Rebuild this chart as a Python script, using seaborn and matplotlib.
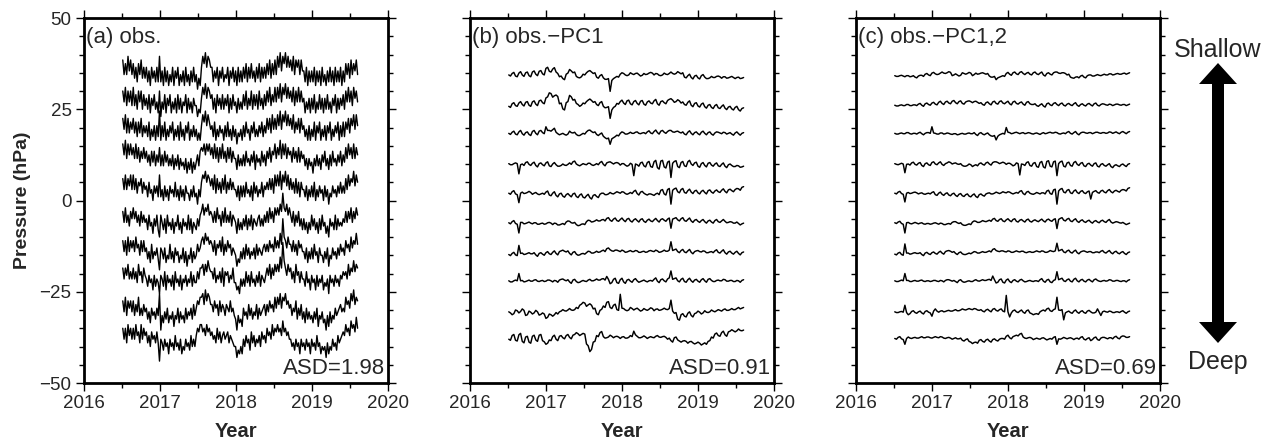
import numpy as np
import pandas as pd
import matplotlib
matplotlib.use("Agg")
import matplotlib.pyplot as plt
import seaborn as sns
from matplotlib.patches import FancyArrow
from matplotlib.ticker import MultipleLocator

# ---------------------------------------------------------------
# data: pressure anomalies of ten sensors
# (shallow -> deep), samples evenly spaced between T_START and T_END
# ---------------------------------------------------------------
T_START, T_END = 2016.51, 2019.60

OFFS_OBS = [35.5, 28, 20.5, 12.5, 4, -5, -13, -20.5, -29.5, -37]
OFFS_RES = [34.4, 26.3, 18.4, 9.8, 2, -6.1, -14.3, -22, -30.5, -37.8]

# (a) observations, hPa
obs_1 = [3,-1,2,-1,4,0,3,-1, 2,-2,1,-3,2,-1,3,-2,1,-2, 1,-3,0,-4,1,-2,0,-3,1,-3, 4,-3, 0,-4,1,-3,0,-4,-1,-3,1,-4,0,-2,1,-4,-1,-3,0,-4,1,-3,-1,-4,0,-3,1,-3, -1,-5,-2,-4, 1,4,2,5,1,4,3,1, 1,-3,0,-2,1,-4,0,-2,1,-3,-1,-2,1,-4,0,-2,1,-3, 0,-4,1,-3,0,-3, 1,-2,2,-3,1,-2,2,-2,0,-3,1,-2,2,-3,1,-2,1,-2, 2,-1,3,-2,2,-1,3,-1, 4,1,5,0,4,2,5,1,4,1, 3,0,4,-1,3,1,3,-1,3,0, 0,-3,1,-4,0,-3, 0,-3,1,-4,0,-3,0,-4,1,-3,-1,-4,0,-3,1,-3,0,-4,1,-3,0,-3,1,-4,0,-3, 2,-1,2,-2,3,-1,2,0,3,-1]
obs_2 = [2,-1,3,-2,2,-1,2,-2, 3,-2,1,-3,2,-1,2,-3,1,-2, 0,-3,1,-4,0,-2,1,-3,-1,-4, 2,-5, -1,-3,1,-4,0,-2,1,-4,-1,-3,0,-4,1,-3,0,-4,-1,-2,1,-4,0,-3,-1,-4,0,-2, -2,-5,-3,-4, 0,3,1,4,0,3,2,0, 1,-3,0,-4,1,-2,0,-3,1,-3,0,-2,1,-4,0,-3,1,-2, -1,-4,0,-3,-1,-3, 1,-2,2,-3,0,-2,2,-3,1,-2,1,-3,2,-2,0,-3,1,-2, 2,-1,3,-2,1,-1,3,-1, 3,0,4,-1,3,1,4,0,3,0, 2,-1,3,-2,2,-1,3,-1,2,-1, 0,-4,-1,-3,0,-4, 0,-3,1,-4,-1,-3,1,-3,0,-4,0,-3,1,-3,-1,-4,0,-2,1,-4,0,-3,0,-2,1,-3, 2,-1,3,-1,2,-2,3,0,2,-1]
obs_3 = [2,-1,3,-2,2,-2,1,-1, 2,-2,1,-3,1,-2,2,-3,0,-2, 0,-3,1,-4,-1,-3,0,-4,0,-3, 4,-4, 0,-3,1,-4,-1,-3,0,-2,1,-4,-1,-3,0,-4,1,-3,-1,-4,0,-2,1,-4,-1,-3,0,-3, -1,-4,-2,-4, 0,3,1,4,0,3,1,-1, 0,-3,1,-4,-1,-3,0,-2,-1,-4,0,-3,1,-3,-1,-4,0,-3, -1,-5,-2,-3,-1,-4, 0,-3,1,-2,-1,-4,0,-2,1,-3,-1,-3,0,-2,1,-3,0,-2, 2,-1,2,-2,3,-1,2,-1, 3,0,4,-1,3,1,4,0,3,0, 2,-1,3,-2,1,-1,2,-2,2,-1, 0,-3,-1,-4,0,-4, -1,-3,1,-4,0,-2,1,-4,-1,-3,0,-4,0,-2,1,-4,-1,-3,0,-2,1,-4,0,-3,1,-3, 1,-1,2,-2,2,0,3,-1,3,0]
obs_4 = [3,0,4,-1,3,0,3,0, 2,-1,3,-1,2,-2,1,-1,2,-1, 1,-2,0,-3,1,-2,1,-3,0,-2, 2,-3, 0,-3,1,-2,0,-3,-1,-3,0,-4,-1,-3,0,-4,-1,-3,-2,-4,-1,-5,-2,-4,-1,-5,-2,-4, -2,0,-3,1, 2,1,3,0,3,1,3,0, 2,-1,3,-1,2,-2,2,-1,3,-1,1,-2,2,-1,2,-2,1,-1, -1,-4,0,-3,-1,-3, 0,-3,1,-2,-1,-3,0,-2,1,-4,0,-2,-1,-3,1,-2,0,-3, 1,-1,2,-2,1,0,3,-1, 2,0,4,-1,3,0,3,-1,2,0, 1,-2,2,-1,1,-2,2,-2,1,-1, 0,-3,-1,-4,-1,-3, -2,-5,-1,-3,0,-3,-1,-4,0,-2,1,-3,-1,-4,0,-3,1,-2,-1,-3,0,-2,1,-3,0,-2, 2,-1,3,0,2,-1,3,-1,2,0]
obs_5 = [2,-1,3,-1,2,0,3,-1, 3,-1,2,-2,1,0,2,-2,1,-1, 0,-3,1,-2,-1,-4,0,-2,0,-3, 3,-3, -1,-4,0,-3,-1,-4,0,-2,-1,-3,1,-3,-1,-4,0,-3,-1,-4,0,-2,-2,-4,-1,-3,0,-3, -2,-5,-1,-3, 1,3,2,4,1,3,2,0, 2,-1,3,-2,2,-1,1,-2,2,-1,3,-2,1,-1,2,-1,1,-1, -1,-3,0,-4,0,-3, 0,-3,1,-2,-1,-3,0,-4,1,-2,0,-3,-1,-2,1,-3,0,-1, 1,-1,2,-1,2,-2,3,0, 3,0,4,-1,3,1,4,0,3,-1, 2,-1,1,-2,2,-2,1,-3,1,-1, -1,-3,0,-4,-1,-3, 0,-3,1,-4,-1,-3,0,-2,-1,-4,0,-3,-1,-5,-2,-3,0,-2,-1,-3,0,-2,1,-2,0,-2, 2,-1,3,0,2,1,4,0,3,1]
obs_6 = [2,-1,3,-1,1,-2,2,0, 3,0,2,-1,1,-2,2,-1,1,-1, 0,-3,1,-2,-1,-4,0,-2,1,-3, -5,1, -1,-3,0,-4,1,-2,-1,-3,0,-4,-1,-2,1,-3,-1,-4,0,-2,-1,-3,1,-3,0,-4,-1,-2, -3,0,-2,1, 2,4,1,3,2,4,1,2, 1,-1,2,-1,3,0,1,-2,2,-1,3,-1,1,-1,2,-2,1,0, -1,-4,0,-3,-1,-3, 0,-2,1,-3,0,-2,1,-3,0,-1,-2,0,1,-2,0,-2,1,-1, 2,-1,3,0,2,-1,3,1, 3,1,4,2,7,3,2,4,1,3, 1,-1,2,-2,1,-1,2,-2,0,-3, 0,-3,-1,-4,-1,-3, 1,-2,0,-3,-1,-4,0,-3,1,-2,-1,-4,-2,-5,0,-2,-1,-3,1,-3,0,-2,-1,-2,0,-1, 2,-1,2,0,3,-1,2,0,3,1]
obs_7 = [2,-1,2,-2,3,-1,2,0, 2,-1,3,0,1,-2,2,-1,2,-1, 0,-3,-1,-4,1,-3,-1,-2,0,-3, -6,0, -1,-3,0,-4,-2,-3,1,-3,-1,-4,0,-2,-1,-4,-2,-3,0,-4,-1,-5,-2,-3,0,-4,-1,-3, -2,1,-1,0, 2,3,1,4,2,3,1,2, 1,-1,2,-2,1,0,2,-1,3,-2,1,-1,2,0,1,-2,0,-1, -2,-5,-3,-4,-1,-3, 0,-3,1,-2,0,-3,-1,-2,0,-3,1,-2,0,-1,-2,0,1,-1, 1,-1,2,0,1,-1,3,0, 2,0,4,1,8,3,2,0,3,1, 1,-1,2,-1,1,-2,2,0,1,-1, -1,-3,0,-4,-1,-3, 0,-3,1,-2,-1,-4,0,-2,-2,-4,-1,-3,0,-5,-2,-3,0,-2,-1,-3,0,-2,1,-1,0,-2, 2,0,1,-1,3,0,2,1,4,1]
obs_8 = [2,-1,2,0,3,-1,1,-1, 2,-1,1,-2,3,0,1,-2,2,0, -1,-3,0,-2,-1,-4,0,-3,-1,-2, -5,0, -1,-3,1,-4,0,-2,-1,-3,0,-4,1,-2,-1,-3,0,-4,-1,-2,0,-3,-1,-2,1,-3,0,-2, -2,1,-1,2, 2,3,0,3,1,4,2,1, 1,-1,2,-2,0,-1,1,-2,2,-3,1,0,1,-2,0,-1,2,-2, -2,-4,-3,-5,-1,-3, -1,-3,1,-2,0,-3,1,-2,-1,-3,0,-2,1,-3,0,-1,-2,0, 2,0,3,-1,2,0,3,1, 3,1,5,2,9,4,2,0,3,1, 2,-1,1,-2,3,0,1,-2,1,-1, -1,-3,1,-2,-1,-4, 0,-2,-1,-4,0,-3,-1,-2,0,-4,-2,-3,-1,-5,0,-2,-1,-3,0,-2,-1,-3,0,-1,1,0, 1,-1,3,0,2,1,4,1,3,2]
obs_9 = [2,-1,3,-2,2,0,2,-1, 2,-2,1,-1,3,-2,0,-2,1,-1, 0,-3,-1,-4,0,-2,-1,-3,0,-2, 4,-6, -2,-4,-1,-3,0,-4,-2,-3,-1,-5,-2,-3,0,-4,-1,-3,-2,-4,0,-3,-1,-2,0,-3,1,-2, 0,2,1,3, 3,4,1,5,2,4,3,1, 1,-1,2,0,1,-2,2,-1,1,0,-2,1,0,-1,2,-1,0,-2, -3,-6,-2,-4,-3,-5, 0,-2,-1,-3,1,-2,0,-3,-1,-2,1,-3,0,-2,-1,0,1,-2, 1,-1,2,0,1,-1,3,0, 3,1,4,0,3,2,4,1,2,0, 1,-2,0,-1,2,-3,0,-2,1,-3, -1,-4,0,-3,-1,-3, -2,-4,-1,-3,0,-5,-2,-3,-1,-4,-3,-6,-2,-5,-1,-4,-2,-3,0,-2,-1,0,1,-1,0,-1, 3,1,2,0,4,2,5,1,3,2]
obs_10 = [2,-1,2,-2,3,0,2,-1, 2,-1,3,0,1,-2,3,-1,2,0, 1,-2,0,-3,1,-1,0,-2,1,-2, -7,-1, -2,-4,-1,-3,-2,-5,-1,-3,-2,-4,0,-3,-2,-4,-1,-5,-3,-4,-1,-3,-2,-4,0,-3,-1,-3, 0,2,1,3, 3,1,2,0,3,1,2,0, 1,-1,0,-2,2,-1,1,-2,0,1,-1,0,1,-2,0,-1,-2,-3, -3,-6,-4,-5,-3,-5, -1,-3,0,-2,-1,-4,1,-2,0,-3,-1,-2,0,-3,1,-1,0,-2, 2,0,1,-1,3,0,2,1, 3,1,2,0,4,1,2,0,1,-1, -1,-3,-2,-4,-1,-3,-2,-5,-1,-3, -2,-4,-1,-3,-2,-5, -1,-3,-2,-4,0,-3,-2,-5,-3,-4,-3,-6,-2,-5,-3,-4,-1,-3,-2,-4,0,-2,-1,0,1,0, 3,1,2,0,4,2,3,1,5,2]

# (b) observations minus PC1, and (c) minus PC1,2 -- in units of 0.1 hPa
RES_UNIT = 0.1
pc1_1 = [0,-3,4,7,-3,-5,5,9,0,-4,6,8,-2,-5,8,11,2,-2,10,12,3,0,18,21,10,8,16,20,8,4,-5,-3,-10,-13,2,5,15,11,6,8,-4,-7,-8,-5,2,0,6,10,12,8,4,6,-6,-9,-2,1,-8,-12,-12,-10,-45,-15,-10,-7,-4,-6,2,6,4,0,-2,0,6,3,1,4,5,1,-3,-1,4,1,2,5,7,5,0,4,3,-1,-2,0,5,2,1,4,8,4,2,4,9,6,3,6,-6,-8,-2,2,-7,-11,-3,-1,-8,-11,-2,1,-6,-10,-10,-8,-4,-7,-7,-4,-3,-5,-9,-5,-5,-9,-8,-6,-4,-7,-10,-7,-6,-10,-9,-7]
pc1_2 = [-5,-8,2,5,-3,-5,4,8,0,-4,6,8,-2,-5,7,10,1,-3,10,12,5,2,18,21,32,30,20,24,26,22,2,4,-12,-15,5,8,25,21,12,14,3,0,-5,-2,4,2,8,12,15,11,6,8,0,-3,5,8,-5,-9,-8,-6,-38,-15,-8,-5,3,1,8,12,4,0,10,12,2,-1,8,11,3,-1,9,11,1,-2,7,10,4,2,10,14,2,-2,8,10,5,2,11,14,16,12,6,8,13,10,4,7,0,-2,6,10,-2,-6,3,5,-4,-7,1,4,-6,-10,-2,0,-8,-11,-3,0,-9,-11,-5,-1,-10,-14,-7,-5,-12,-15,-8,-5,-14,-18,-11,-9]
pc1_3 = [0,-3,3,6,-2,-4,4,8,-1,-5,2,4,-3,-6,5,8,0,-4,6,8,2,-1,18,8,8,6,10,14,3,-1,-4,-2,0,-3,-5,-2,6,2,1,3,-3,-6,-6,-3,0,-2,4,8,9,5,2,4,-3,-6,-2,1,-8,-12,-15,-13,-30,-15,-12,-9,-5,-7,0,4,2,-2,-2,0,3,0,0,3,4,0,-1,1,2,-1,4,7,1,-1,5,9,2,-2,6,8,3,0,5,8,8,4,3,5,6,3,1,4,-2,-4,3,7,0,-4,2,4,-1,-4,3,6,0,-4,2,4,-2,-5,1,4,3,1,-1,3,2,-2,0,2,-2,-5,1,4,-1,-5,0,2]
pc1_4 = [3,0,0,3,5,3,-25,0,2,-2,6,8,1,-2,4,7,-2,-6,3,5,0,-3,5,8,-3,-5,2,6,0,-4,-4,-2,2,-1,-2,1,5,1,8,10,2,-1,-3,0,3,1,0,4,4,0,-2,0,3,0,6,9,1,-3,5,7,8,5,2,5,6,4,-1,3,3,-1,-4,-2,4,1,-30,2,0,-4,5,7,-3,-6,6,9,-5,-7,8,12,-8,-12,10,12,-6,-9,7,10,-35,4,9,11,-5,-8,6,9,-3,-5,8,12,2,-2,5,7,-4,-7,3,6,-2,-6,4,6,-1,-4,2,5,-3,-5,1,5,-4,-8,0,2,-2,-5,-5,-2,-3,-7,-6,-4]
pc1_5 = [0,-3,4,7,-2,-4,-26,0,3,-1,0,2,5,2,-3,0,2,-2,-4,-2,0,-3,3,6,-5,-7,0,4,-6,-10,-2,0,-8,-11,-4,-1,-6,-10,-2,0,-9,-12,-5,-2,-11,-13,-7,-3,-12,-16,-6,-4,-9,-12,-3,0,0,-4,-4,-2,2,-1,-2,1,4,2,0,4,3,-1,-3,-1,2,-1,5,8,-1,-5,3,5,0,-3,-5,-2,-2,-4,-6,-2,0,-4,8,10,-2,-5,10,13,-30,8,12,14,4,1,10,13,2,0,7,11,3,-1,6,8,1,-2,5,8,2,-2,7,9,3,0,6,9,4,2,8,12,5,1,9,11,7,4,10,13,12,8,16,18]
pc1_6 = [0,-3,3,6,-2,-4,-28,1,1,-3,-2,0,2,-1,-3,0,0,-4,-4,-2,-1,-4,-3,0,1,-1,-5,-1,-2,-6,-6,-4,-2,-5,2,5,4,0,-1,1,-5,-8,-7,-4,-3,-5,3,7,6,2,3,5,8,5,5,8,9,5,12,14,7,4,10,13,6,4,9,13,7,3,10,12,5,2,8,11,6,2,9,11,4,1,7,10,5,3,8,12,6,2,9,11,7,4,10,13,-15,10,12,14,8,5,11,14,6,4,9,13,5,1,7,9,4,1,6,9,3,-1,5,7,2,-1,6,9,3,1,5,9,4,0,1,3,2,-1,-1,2,-2,-6,-3,-1]
pc1_7 = [-5,-8,-2,1,-6,-8,20,-2,-1,-5,-4,-2,0,-3,-3,0,-6,-10,-2,0,-4,-7,0,3,-3,-5,1,5,-2,-6,3,5,7,4,2,5,-2,-6,1,3,-4,-7,-6,-3,-2,-4,0,4,3,-1,-1,1,4,1,2,5,7,3,11,13,8,5,4,7,7,5,3,7,5,1,2,4,6,3,3,6,5,1,1,3,4,1,2,5,6,4,3,7,5,1,2,4,7,4,4,7,30,6,8,10,3,0,6,9,2,0,5,9,1,-3,3,5,6,3,2,5,4,0,0,2,3,0,5,8,1,-1,4,8,0,-4,2,4,-1,-4,1,4,-2,-6,0,2]
pc1_8 = [0,-3,-3,0,2,0,20,0,1,-3,-2,0,2,-1,-1,2,3,-1,-2,0,1,-2,-1,2,2,0,-3,1,0,-4,2,4,5,2,0,3,-3,-7,2,4,-2,-5,-4,-1,1,-1,-2,2,4,0,0,2,5,2,2,5,6,2,12,4,-8,-5,4,7,-5,-7,3,7,-3,-7,2,4,-1,-4,3,6,0,-4,-2,0,2,-1,-3,0,1,-1,4,8,-1,-5,3,5,0,-3,5,8,27,4,6,8,0,-3,4,7,-2,-4,3,7,0,-4,2,4,-1,-4,3,6,0,-4,4,6,1,-2,-2,1,2,0,0,4,3,-1,-1,1,1,-2,-2,1,0,-4,1,3]
pc1_9 = [0,-3,-8,-5,5,3,-3,1,8,4,-10,-8,2,-1,-6,-3,4,0,-9,-7,-3,-6,-18,-15,-6,-8,-12,-8,-2,-6,0,2,6,3,2,5,9,5,4,6,12,9,18,21,26,24,15,19,22,18,8,10,-5,-8,4,7,16,12,26,28,12,9,18,21,6,4,48,10,9,5,3,5,12,9,5,8,10,6,2,4,9,6,4,7,11,9,3,7,8,4,5,7,10,7,6,9,32,2,-4,-2,-20,-23,-8,-5,-12,-14,-4,0,-10,-14,-5,-3,2,-1,-6,-3,3,-1,-2,0,5,2,0,3,6,4,2,6,8,4,4,6,9,6,6,9,12,8,10,12]
pc1_10 = [-2,-5,8,11,-5,-7,10,14,-8,-12,4,6,-10,-13,6,9,-4,-8,9,11,-6,-9,-16,-13,-4,-6,5,9,-2,-6,6,8,2,-1,8,11,3,-1,9,11,16,13,8,11,14,12,-15,-20,-36,-30,-10,-8,8,5,16,19,5,1,2,4,9,6,2,5,6,4,0,4,5,1,1,3,8,5,20,10,6,2,2,4,7,4,0,3,5,3,2,6,8,4,3,5,6,3,-2,1,-6,-10,2,4,-4,-7,-10,-7,-6,-8,-13,-9,-8,-12,-15,-13,-10,-13,-18,-15,-12,-16,-8,-6,4,1,12,15,8,6,16,20,10,6,18,20,24,21,18,21,26,22,21,23]

pc12_1 = [-2,-4,-4,-2,-1,-3,-5,-2,-2,-5,-4,-2,-6,-8,-3,-1,-1,-4,2,4,0,-2,5,7,3,1,2,5,8,5,4,6,9,7,-2,0,3,0,-3,-1,6,4,2,4,7,5,-2,1,5,2,3,5,6,4,2,4,-3,-6,-6,-4,-13,-8,-6,-4,-2,-4,4,7,2,-1,6,8,3,1,7,9,4,1,5,7,2,0,6,8,3,1,5,8,0,-3,4,6,2,0,6,8,8,5,4,6,6,4,0,2,-6,-8,-9,-6,-5,-8,-3,-1,-6,-8,-2,0,0,-3,-3,-1,1,-1,-2,0,2,0,0,3,3,0,1,3,4,2,2,4,5,2,4,6]
pc12_2 = [-2,-4,-4,-2,-1,-3,-3,0,0,-3,-3,-1,-1,-3,1,3,-2,-5,2,4,0,-2,4,6,1,-1,6,9,3,0,7,9,4,2,9,11,5,2,8,10,3,1,7,9,10,8,5,8,9,6,3,5,0,-2,5,7,2,-1,7,9,3,1,8,10,4,2,6,9,2,-1,7,9,3,1,5,7,1,-2,6,8,2,0,0,2,-3,-5,-1,2,-4,-7,2,4,-1,-3,3,5,0,-3,2,4,-2,-4,1,3,-1,-3,2,5,-2,-5,0,2,-2,-4,1,3,-1,-4,2,4,-2,-4,0,2,1,-1,-2,1,0,-3,-1,1,1,-1,-2,0,0,-3,-1,1]
pc12_3 = [0,-2,-2,0,1,-1,-1,2,2,-1,-2,0,0,-2,1,3,-1,-4,0,2,2,0,18,1,0,-2,-2,1,1,-2,-1,1,0,-2,-3,-1,-1,-4,-3,-1,0,-2,-2,0,1,-1,-1,2,-3,-6,0,2,-2,-4,-1,1,-4,-7,-8,-6,-18,-8,-4,-2,0,-2,16,3,2,-1,0,2,3,1,-1,1,2,-1,0,2,1,-1,-2,0,1,-1,-3,0,2,-1,0,2,3,1,1,3,2,-1,-2,0,1,-1,3,5,0,-2,2,5,-1,-4,1,3,3,1,0,2,2,-1,1,3,3,1,0,2,2,0,1,4,3,0,2,4,1,-1,3,5,2,-1,3,5]
pc12_4 = [3,1,0,2,4,2,-22,1,2,-1,5,7,1,-1,4,6,-2,-5,3,5,0,-2,6,8,2,0,5,8,1,-2,3,5,8,6,2,4,5,2,1,3,-2,-4,-4,-2,2,0,-5,-2,0,-3,3,5,1,-1,5,7,2,-1,6,8,8,6,3,5,7,5,1,4,4,1,-3,-1,5,3,-28,2,1,-2,6,8,-2,-4,4,6,-5,-7,6,9,-6,-9,9,11,-4,-6,8,10,-30,3,8,10,-4,-6,5,7,-2,-4,6,9,1,-2,4,6,-3,-5,2,4,-1,-4,3,5,-4,-6,1,3,-2,-4,0,3,-5,-8,-2,0,-3,-5,0,2,-2,-5,1,3]
pc12_5 = [0,-2,3,5,-1,-3,-24,0,2,-1,0,2,3,1,-2,0,1,-2,-3,-1,0,-2,2,4,-4,-6,0,3,-3,-6,-1,1,-5,-7,-2,0,-6,-9,-3,-1,-7,-9,-4,-2,-8,-10,-5,-2,-9,-12,-4,-2,-6,-8,-2,0,1,-2,-2,0,3,1,-1,1,4,2,1,4,3,0,-2,0,2,0,5,7,-1,-4,3,5,0,-2,-3,-1,2,0,-2,1,1,-2,6,8,-1,-3,9,11,-30,6,11,13,3,1,8,10,1,-1,6,9,2,-1,5,7,1,-1,4,6,-16,2,5,7,2,0,6,8,3,1,7,10,4,1,6,8,5,3,8,10,9,6,13,15]
pc12_6 = [0,-2,2,4,-2,-4,-28,0,1,-2,-3,-1,1,-1,-3,-1,0,-3,-4,-2,-2,-4,-3,-1,0,-2,-4,-1,-2,-5,-5,-3,-2,-4,1,3,3,0,-2,0,-5,-7,-7,-5,-3,-5,2,5,4,1,1,3,6,4,3,5,7,4,10,12,6,4,9,11,5,3,8,11,6,3,9,11,4,2,7,9,5,2,8,10,4,2,6,8,5,3,7,10,5,2,8,10,6,4,9,11,-16,9,12,14,7,5,10,12,5,3,8,11,4,1,6,8,3,1,5,7,2,-1,4,6,2,0,5,7,3,1,6,9,2,-1,1,3,2,0,-1,1,-2,-5,-3,-1]
pc12_7 = [-4,-6,-1,1,-5,-7,24,-1,-1,-4,-3,-1,0,-2,-2,0,-5,-8,-1,1,-3,-5,0,2,-2,-4,1,4,-1,-4,3,5,6,4,1,3,-2,-5,0,2,-3,-5,-5,-3,-1,-3,0,3,2,-1,-1,1,3,1,1,3,5,2,9,11,6,4,3,5,5,3,2,5,4,1,1,3,5,3,2,4,4,1,0,2,3,1,1,3,5,3,2,5,4,1,1,3,6,4,3,5,26,5,7,9,2,0,5,7,1,-1,4,7,0,-3,2,4,5,3,1,3,3,0,0,2,2,0,4,6,1,-1,3,6,0,-3,2,4,-1,-3,1,3,-2,-5,0,2]
pc12_8 = [0,-2,-2,0,2,0,20,1,1,-2,-2,0,1,-1,-1,1,2,-1,-2,0,0,-2,-1,1,1,-1,-2,1,0,-3,1,3,3,1,-1,1,-2,-5,1,3,-2,-4,-3,-1,0,-2,-2,1,3,0,-1,1,3,1,1,3,4,1,13,3,-6,-4,3,5,-4,-6,2,5,-2,-5,1,3,-1,-3,2,4,0,-3,-2,0,1,-1,-2,0,0,-2,3,6,-1,-4,2,4,-3,-5,1,3,25,3,5,7,0,-2,3,5,-1,-3,4,7,0,-3,2,4,-1,-3,2,4,0,-3,3,5,1,-1,-2,0,1,-1,0,3,2,-1,-1,1,1,-1,-2,0,0,-3,1,3]
pc12_9 = [0,-2,-2,0,1,-1,18,-2,-8,-5,1,3,-2,-4,0,2,-3,-6,1,3,-1,-3,-12,2,8,2,-1,2,3,0,1,3,4,2,2,4,6,3,3,5,8,6,5,7,9,7,6,9,8,5,4,6,2,0,5,7,3,0,7,9,4,2,6,8,2,0,45,0,-14,-3,3,5,0,-2,2,5,-1,-4,3,5,-3,-5,-8,-6,-5,-7,0,3,5,2,8,10,3,1,6,8,40,5,4,6,-22,-3,0,2,-2,-4,2,5,-1,-4,1,3,-2,-4,2,4,0,-3,-3,-1,8,-1,-10,0,2,0,-1,2,1,-2,-2,0,0,-2,1,3,-1,-4,0,2]
pc12_10 = [0,-2,3,5,-1,-3,-16,0,4,1,0,2,3,1,1,3,5,2,2,4,4,2,1,3,5,3,2,5,4,1,0,2,3,1,-2,0,2,-1,-1,1,-5,-7,-3,-1,-8,-10,-14,-11,-10,-13,-5,-3,-8,-10,-4,-2,-7,-10,-3,-1,-5,-7,-2,0,0,-2,6,9,2,-1,5,7,9,7,12,14,4,1,0,2,3,1,-3,-1,1,-1,-2,1,2,-1,-4,-2,0,-2,3,5,-16,-1,-2,0,3,1,-1,1,2,0,-3,0,1,-2,3,5,-2,-4,0,2,-6,-3,2,4,-3,-5,1,3,3,1,-1,2,2,-1,4,6,1,-1,5,7,6,3,3,5]

OBS = [obs_1, obs_2, obs_3, obs_4, obs_5, obs_6, obs_7, obs_8, obs_9, obs_10]
PC1 = [pc1_1, pc1_2, pc1_3, pc1_4, pc1_5, pc1_6, pc1_7, pc1_8, pc1_9, pc1_10]
PC12 = [pc12_1, pc12_2, pc12_3, pc12_4, pc12_5, pc12_6, pc12_7, pc12_8, pc12_9, pc12_10]

PANEL_LABELS = ["(a) obs.", "(b) obs.\u2212PC1", "(c) obs.\u2212PC1,2"]
ASD = ["ASD=1.98", "ASD=0.91", "ASD=0.69"]


def to_long(traces, offsets, unit=1.0):
    rows = []
    for k, (vals, off) in enumerate(zip(traces, offsets)):
        t = np.linspace(T_START, T_END, len(vals))
        rows.append(pd.DataFrame({"year": t,
                                  "p": np.asarray(vals, float) * unit + off,
                                  "sensor": k}))
    return pd.concat(rows, ignore_index=True)


sns.set_style("ticks")
plt.rcParams["font.family"] = ["Liberation Sans", "DejaVu Sans"]
plt.rcParams["axes.edgecolor"] = "black"

W, H = 1269, 442
fig = plt.figure(figsize=(W / 100, H / 100), dpi=100)

panels = [(OBS, OFFS_OBS, 1.0, 84, 1.0),
          (PC1, OFFS_RES, RES_UNIT, 470, 1.05),
          (PC12, OFFS_RES, RES_UNIT, 856, 1.05)]
ax_w, ax_b, ax_h = 304 / W, (H - 383) / H, 365 / H

for i, (traces, offs, unit, left_px, lw) in enumerate(panels):
    ax = fig.add_axes([left_px / W, ax_b, ax_w, ax_h])
    df = to_long(traces, offs, unit)
    sns.lineplot(data=df, x="year", y="p", units="sensor", estimator=None,
                 sort=False, color="black", lw=lw, ax=ax, legend=False)
    ax.set_xlim(2016, 2020)
    ax.set_ylim(-50, 50)
    ax.xaxis.set_major_locator(MultipleLocator(1))
    ax.xaxis.set_minor_locator(MultipleLocator(0.5))
    ax.yaxis.set_major_locator(MultipleLocator(25))
    ax.yaxis.set_minor_locator(MultipleLocator(5))
    ax.tick_params(which="both", direction="out", top=True, right=True,
                   width=1, color="black", labelsize=13.5, pad=3)
    ax.tick_params(which="major", length=6)
    ax.tick_params(which="minor", length=3.5)
    for s in ax.spines.values():
        s.set_visible(True)
        s.set_linewidth(2)
    ax.set_xlabel("Year", fontsize=14.5, fontweight="bold")
    ax.xaxis.set_label_coords(0.5, -0.108)
    if i == 0:
        ax.set_ylabel("Pressure (hPa)", fontsize=14, fontweight="bold")
        ax.yaxis.set_label_coords(-0.175, 0.5)
    else:
        ax.set_ylabel("")
        ax.tick_params(labelleft=False)
    ax.text(0.006, 0.975, PANEL_LABELS[i], transform=ax.transAxes,
            ha="left", va="top", fontsize=16)
    ax.text(0.99, 0.025, ASD[i], transform=ax.transAxes,
            ha="right", va="baseline", fontsize=16)

# depth arrow on the right, drawn in pixel space
ov = fig.add_axes([0, 0, 1, 1], facecolor="none")
ov.set_xlim(0, W)
ov.set_ylim(H, 0)
ov.axis("off")
mid = (63 + 343) / 2
for tip in (63, 343):
    ov.add_patch(FancyArrow(1218, mid, 0, tip - mid, width=12, head_width=38,
                            head_length=21, length_includes_head=True,
                            color="black", lw=0))
ov.text(1218, 57, "Shallow", ha="center", va="baseline", fontsize=18)
ov.text(1218, 369, "Deep", ha="center", va="baseline", fontsize=18)

fig.savefig("out.png", dpi=100)
